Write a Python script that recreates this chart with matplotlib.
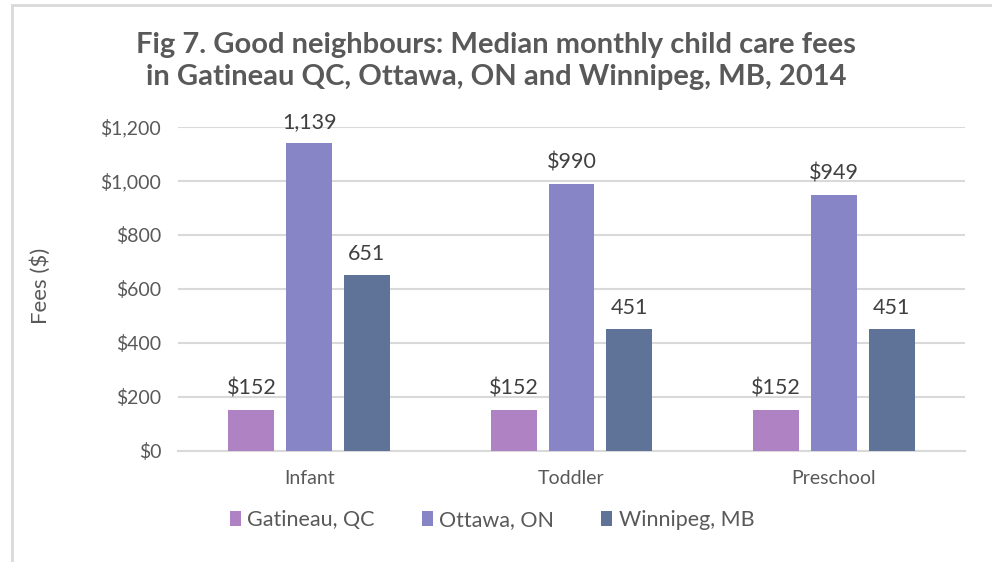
import numpy as np
import matplotlib.pyplot as plt
from matplotlib.patches import Rectangle

plt.rcParams['font.family'] = ['Lato', 'DejaVu Sans']

# Data
categories = ['Infant', 'Toddler', 'Preschool']
cities = ['Gatineau, QC', 'Ottawa, ON', 'Winnipeg, MB']
gatineau = [152, 152, 152]
ottawa = [1139, 990, 949]
winnipeg = [651, 451, 451]
labels = [['$152', '$152', '$152'],
          ['1,139', '$990', '$949'],
          ['651', '451', '451']]
colors = ['#AF82C3', '#8885C6', '#5F7298']

fig = plt.figure(figsize=(9.92, 5.62), dpi=100)
ax = fig.add_axes([178 / 992, 1 - 451 / 562, 787 / 992, 324 / 562])

# light frame around the chart area
fig.patches.append(Rectangle((11.5 / 992, -0.1), 1.2, 1 - 4.5 / 562 + 0.1,
                             transform=fig.transFigure, fill=False,
                             edgecolor='#D9D9D9', linewidth=2))

x = np.arange(len(categories))
width = 0.175
offset = 0.22
series = [gatineau, ottawa, winnipeg]
for i, (vals, col) in enumerate(zip(series, colors)):
    bars = ax.bar(x + (i - 1) * offset, vals, width, color=col, label=cities[i], zorder=3)
    for b, lab in zip(bars, labels[i]):
        ax.text(b.get_x() + b.get_width() / 2, b.get_height() + 42, lab,
                ha='center', va='bottom', fontsize=15.5, color='#404040')

ax.set_xlim(-0.5, 2.5)
ax.set_ylim(0, 1200)
ax.set_yticks(range(0, 1201, 200))
ax.set_yticklabels(['${:,}'.format(v) for v in range(0, 1201, 200)])
ax.set_xticks(x)
ax.set_xticklabels(categories)
ax.tick_params(axis='both', length=0, labelsize=14, labelcolor='#595959')
ax.tick_params(axis='x', pad=14)
ax.tick_params(axis='y', pad=12)
ax.grid(axis='y', color='#D9D9D9', linewidth=1.5, zorder=0)
for s in ['top', 'right', 'left']:
    ax.spines[s].set_visible(False)
ax.spines['bottom'].set_color('#D9D9D9')
ax.spines['bottom'].set_linewidth(1.5)

ax.set_ylabel('Fees ($)', fontsize=16, color='#595959')
ax.yaxis.set_label_coords((51 - 178) / 787, (451 - 286) / 324)

fig.text(0.5, 1 - 61 / 562, 'Fig 7. Good neighbours: Median monthly child care fees\n'
         'in Gatineau QC, Ottawa, ON and Winnipeg, MB, 2014',
         ha='center', va='center', fontsize=21, fontweight='bold',
         color='#595959', linespacing=1.32)

fig.legend(loc='center', bbox_to_anchor=(492 / 992, 1 - 520 / 562), ncol=3,
           frameon=False, fontsize=15.5, labelcolor='#595959',
           handlelength=0.5, handleheight=0.7, handletextpad=0.3, columnspacing=2.2)

plt.savefig('out.png', dpi=100)
